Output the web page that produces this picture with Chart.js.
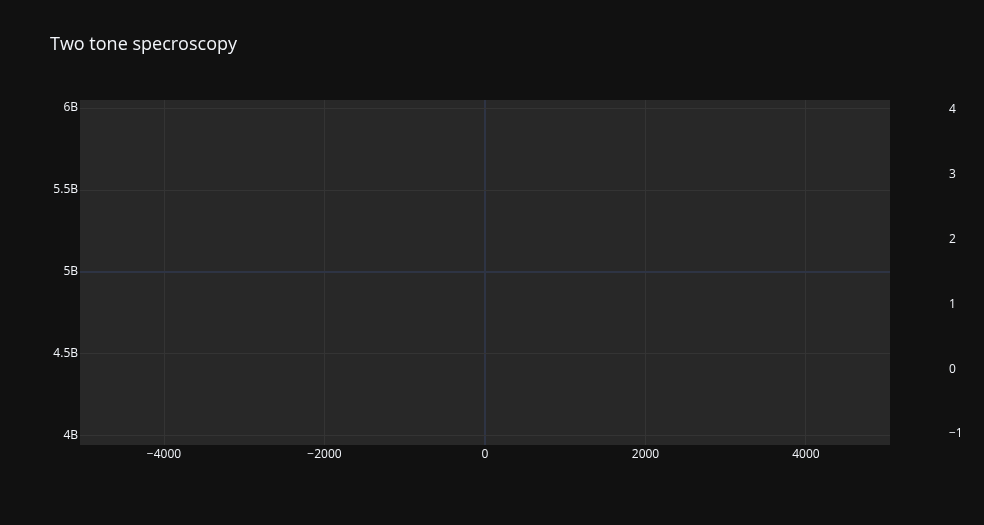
<!DOCTYPE html>
<html>
<head>
<meta charset="utf-8">
<script src="https://cdn.jsdelivr.net/npm/chart.js@4.4.0/dist/chart.umd.min.js"></script>
<style>
  html, body { margin: 0; padding: 0; background: #111111; }
  #wrap { width: 984px; height: 525px; position: relative; }
</style>
</head>
<body>
<div id="wrap"><canvas id="chart" width="984" height="525"></canvas></div>
<script>
// Datos (el gráfico de referencia no tiene trazas, sólo ejes)
const titleText = 'Two tone specroscopy';
const freqValues = [];       // eje izquierdo (Hz)
const signalValues = [];     // eje derecho
const detuning = [];         // eje x

// Ticks de los ejes
const xTicks = [-4000, -2000, 0, 2000, 4000];
const yTicks = [4e9, 4.5e9, 5e9, 5.5e9, 6e9];
const y2Ticks = [-1, 0, 1, 2, 3, 4];

// Rangos de los ejes
const xRange = [-5047, 5047];
const yRange = [3.945e9, 6.049e9];
const y2Range = [-1.17, 4.154];

const fontFamily = '"Open Sans", "DejaVu Sans", sans-serif';
const gridGrey = '#343434';
const gridBlue = '#2e3444';

function fmtB(v) {
    return (v / 1e9) + 'B';
}
function fmtMinus(v) {
    return String(v).replace('-', '\u2212');
}

// Plugin para el fondo del área y el título
const plotBg = {
    id: 'plotBg',
    beforeDraw(chart) {
        const { ctx, chartArea: a } = chart;
        ctx.save();
        ctx.fillStyle = '#282828';
        ctx.fillRect(a.left, a.top, a.right - a.left, a.bottom - a.top);
        ctx.fillStyle = '#f2f5fa';
        ctx.font = '18px ' + fontFamily;
        ctx.textBaseline = 'middle';
        ctx.fillText(titleText, 50, 45);
        ctx.restore();
    }
};

const config = {
    type: 'scatter',
    data: {
        datasets: [
            { label: 'freq', data: detuning.map((x, i) => ({ x: x, y: freqValues[i] })), yAxisID: 'y' },
            { label: 'signal', data: detuning.map((x, i) => ({ x: x, y: signalValues[i] })), yAxisID: 'y2' }
        ]
    },
    options: {
        responsive: false,
        animation: false,
        layout: { padding: { top: 100, left: 0, right: 0, bottom: 0 } },
        plugins: { legend: { display: false }, tooltip: { enabled: false } },
        scales: {
            x: {
                type: 'linear',
                min: xRange[0],
                max: xRange[1],
                afterBuildTicks: (axis) => { axis.ticks = xTicks.map(v => ({ value: v })); },
                afterFit: (axis) => { axis.height = 80; },
                border: { display: false },
                grid: {
                    drawTicks: false,
                    color: (c) => (c.tick && c.tick.value === 0 ? gridBlue : gridGrey),
                    lineWidth: (c) => (c.tick && c.tick.value === 0 ? 2 : 1)
                },
                ticks: {
                    color: '#f2f5fa',
                    padding: 2,
                    maxRotation: 0,
                    font: { family: fontFamily, size: 12 },
                    callback: (v) => fmtMinus(v)
                }
            },
            y: {
                type: 'linear',
                position: 'left',
                min: yRange[0],
                max: yRange[1],
                afterBuildTicks: (axis) => { axis.ticks = yTicks.map(v => ({ value: v })); },
                afterFit: (axis) => { axis.width = 80; },
                border: { display: false },
                grid: {
                    drawTicks: false,
                    color: (c) => (c.tick && c.tick.value === 5e9 ? gridBlue : gridGrey),
                    lineWidth: (c) => (c.tick && c.tick.value === 5e9 ? 2 : 1)
                },
                ticks: {
                    color: '#f2f5fa',
                    padding: 2,
                    font: { family: fontFamily, size: 12 },
                    callback: (v) => fmtB(v)
                }
            },
            y2: {
                type: 'linear',
                position: 'right',
                min: y2Range[0],
                max: y2Range[1],
                afterBuildTicks: (axis) => { axis.ticks = y2Ticks.map(v => ({ value: v })); },
                afterFit: (axis) => { axis.width = 94; },
                border: { display: false },
                grid: { display: false, drawTicks: false },
                ticks: {
                    color: '#f2f5fa',
                    padding: 59,
                    font: { family: fontFamily, size: 12 },
                    callback: (v) => fmtMinus(v)
                }
            }
        }
    },
    plugins: [plotBg]
};

const chartEl = document.getElementById('chart');
chartEl.chart = new Chart(chartEl, config);
</script>
</body>
</html>
